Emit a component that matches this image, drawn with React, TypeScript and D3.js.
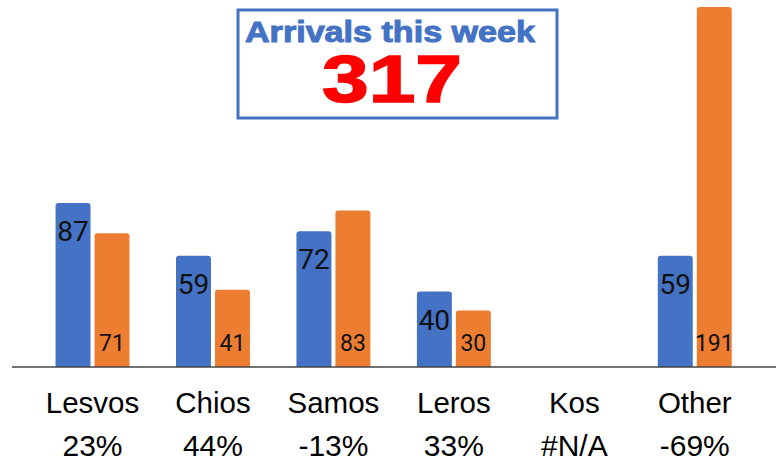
import React from "react";
import * as d3 from "d3";

const categories = ["Lesvos", "Chios", "Samos", "Leros", "Kos", "Other"];
const thisWeek: (number | null)[] = [87, 59, 72, 40, null, 59];
const lastWeek: (number | null)[] = [71, 41, 83, 30, null, 191];
const changeLabels = ["23%", "44%", "-13%", "33%", "#N/A", "-69%"];
const titleText = "Arrivals this week";
const totalText = String(d3.sum(thisWeek.map((v) => v ?? 0)));
const seriesKeys = ["thisWeek", "lastWeek"];

const W = 783;
const H = 461;
const BLUE = "#4472C4";
const ORANGE = "#ED7D31";

export default function App() {
  const baseY = 367;
  const x = d3
    .scaleBand<string>()
    .domain(categories)
    .range([32.3, 755])
    .paddingInner(0.386)
    .paddingOuter(0.193);
  const xi = d3
    .scaleBand<string>()
    .domain(seriesKeys)
    .range([0, x.bandwidth()])
    .paddingInner(0.103);
  const y = d3.scaleLinear().domain([0, 191]).range([baseY, 7]);

  const barPath = (x0: number, y0: number, w: number, h: number, r: number) => {
    const rr = Math.min(r, h / 2, w / 2);
    return `M${x0},${y0 + h}V${y0 + rr}Q${x0},${y0} ${x0 + rr},${y0}H${x0 + w - rr}Q${x0 + w},${y0} ${x0 + w},${y0 + rr}V${y0 + h}Z`;
  };

  return (
    <svg
      width={W}
      height={H}
      style={{ position: "absolute", left: 0, top: 0, background: "#fff" }}
    >
      {/* bars */}
      {categories.map((c, i) => {
        const gx = x(c)!;
        const vals = [thisWeek[i], lastWeek[i]];
        return (
          <g key={c}>
            {vals.map((v, k) => {
              if (v == null) return null;
              const bx = gx + xi(seriesKeys[k])!;
              const bw = xi.bandwidth();
              const top = y(v);
              return (
                <path
                  key={k}
                  d={barPath(bx, top, bw, baseY - top, 3)}
                  fill={k === 0 ? BLUE : ORANGE}
                />
              );
            })}
            {vals.map((v, k) => {
              if (v == null) return null;
              const bx = gx + xi(seriesKeys[k])! + xi.bandwidth() / 2;
              const ty = k === 0 ? y(v) + 38 : baseY - 16;
              return (
                <text
                  key={"t" + k}
                  x={bx}
                  y={ty}
                  textAnchor="middle"
                  fontFamily="Roboto, 'Noto Sans', sans-serif"
                  fontSize={k === 0 ? 28 : 23}
                  fill="#111"
                >
                  {v}
                </text>
              );
            })}
          </g>
        );
      })}

      {/* axis line */}
      <line x1={12} x2={776} y1={baseY} y2={baseY} stroke="#444" strokeWidth={1.6} />

      {/* category labels */}
      {categories.map((c, i) => {
        const cx = x(c)! + x.bandwidth() / 2;
        return (
          <g key={"l" + c}>
            <text
              x={cx}
              y={413}
              textAnchor="middle"
              fontFamily="'Liberation Sans', Arial, sans-serif"
              fontSize={29.5}
              fill="#000"
            >
              {c}
            </text>
            <text
              x={cx}
              y={456}
              textAnchor="middle"
              fontFamily="'Liberation Sans', Arial, sans-serif"
              fontSize={30}
              fill="#000"
            >
              {changeLabels[i]}
            </text>
          </g>
        );
      })}

      {/* title box */}
      <rect x={238} y={10} width={319} height={108} fill="#fff" stroke={BLUE} strokeWidth={3} />
      <text
        x={390}
        y={42}
        textAnchor="middle"
        fontFamily="'Liberation Sans', Arial, sans-serif"
        fontWeight="bold"
        fontSize={29}
        fill={BLUE}
        stroke={BLUE}
        strokeWidth={1}
        textLength={290}
        lengthAdjust="spacingAndGlyphs"
      >
        {titleText}
      </text>
      <text
        x={392}
        y={102}
        textAnchor="middle"
        fontFamily="'Liberation Sans', Arial, sans-serif"
        fontWeight="bold"
        fontSize={66}
        fill="#FF0000"
        stroke="#FF0000"
        strokeWidth={1.5}
        textLength={140}
        lengthAdjust="spacingAndGlyphs"
      >
        {totalText}
      </text>
    </svg>
  );
}
